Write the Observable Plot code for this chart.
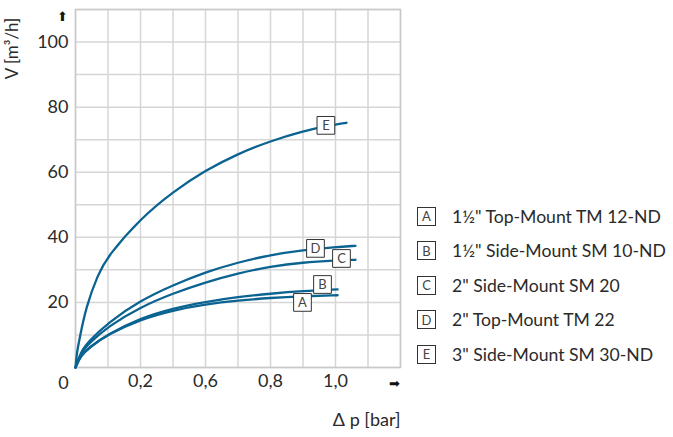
<!DOCTYPE html>
<html>
<head>
<meta charset="utf-8">
<script src="https://cdn.jsdelivr.net/npm/d3@7"></script>
<script src="https://cdn.jsdelivr.net/npm/@observablehq/plot@0.6"></script>
<style>
  body { margin: 0; background: #fff; }
  #wrap { position: relative; width: 673px; height: 437px; font-family: Lato, "Open Sans", sans-serif; color: #2a2a2a; }
  #legend { position: absolute; left: 417px; top: 199px; }
  .row { display: flex; align-items: center; height: 34.5px; }
  .box { width: 17px; height: 17px; border: 1px solid #333; box-sizing: content-box; display: flex; align-items: center; justify-content: center; font-size: 13px; color: #444; margin-right: 16px; }
  .lbl { font-size: 17.6px; white-space: nowrap; }
</style>
</head>
<body>
<div id="wrap"><div id="legend"></div></div>
<script>
// Series data (Δp in bar, V in m³/h)
const seriesA_x = [0, 0.02, 0.05, 0.125, 0.25, 0.375, 0.5, 0.625, 0.75, 0.875, 1.008];
const seriesA_y = [0, 3.6, 6.0, 10.2, 14.8, 17.6, 19.4, 20.6, 21.4, 21.9, 22.2];
const seriesB_x = [0, 0.02, 0.05, 0.125, 0.25, 0.375, 0.5, 0.625, 0.75, 0.875, 1.008];
const seriesB_y = [0, 3.6, 6.0, 10.2, 15.2, 18.2, 20.2, 21.7, 22.7, 23.5, 24.0];
const seriesC_x = [0, 0.02, 0.05, 0.125, 0.25, 0.375, 0.5, 0.625, 0.75, 0.875, 1.0, 1.077];
const seriesC_y = [0, 4.4, 7.3, 12.6, 18.6, 22.8, 26.2, 29.0, 31.0, 32.3, 32.9, 33.1];
const seriesD_x = [0, 0.02, 0.05, 0.125, 0.25, 0.375, 0.5, 0.625, 0.75, 0.875, 1.0, 1.077];
const seriesD_y = [0, 4.8, 8.0, 13.8, 20.6, 25.3, 29.3, 32.3, 34.6, 36.1, 37.0, 37.4];
const seriesE_x = [0, 0.005, 0.016, 0.04, 0.087, 0.125, 0.25, 0.375, 0.5, 0.625, 0.75, 0.875, 0.95, 1.042];
const seriesE_y = [0, 4.5, 9.0, 18.5, 28.8, 34.3, 45.8, 54.0, 60.6, 65.7, 69.6, 72.6, 73.9, 75.2];

// Curve labels (letter boxes on the curves)
const labelLetters = ["A", "B", "C", "D", "E"];
const labelX = [0.873, 0.95, 1.023, 0.923, 0.963];
const labelY = [20.0, 25.5, 33.5, 36.6, 74.4];

// Legend
const legendNames = [
  "1½\" Top-Mount TM 12-ND",
  "1½\" Side-Mount SM 10-ND",
  "2\" Side-Mount SM 20",
  "2\" Top-Mount TM 22",
  "3\" Side-Mount SM 30-ND"
];

// Axis ticks
const xTickValues = [0.25, 0.5, 0.75, 1.0];
const xTickLabels = ["0,2", "0,6", "0,8", "1,0"];
const yTickValues = [20, 40, 60, 80, 100];
const xGrid = [0, 0.125, 0.25, 0.375, 0.5, 0.625, 0.75, 0.875, 1.0, 1.125, 1.25];
const yGrid = [0, 10, 20, 30, 40, 50, 60, 70, 80, 90, 100, 110];

const seriesX = [seriesA_x, seriesB_x, seriesC_x, seriesD_x, seriesE_x];
const seriesY = [seriesA_y, seriesB_y, seriesC_y, seriesD_y, seriesE_y];
const lines = [];
labelLetters.forEach((s, i) => seriesX[i].forEach((x, j) => lines.push({series: s, x, y: seriesY[i][j]})));
const labels = labelLetters.map((l, i) => ({letter: l, x: labelX[i], y: labelY[i]}));

const blue = "#0b6391";
const txt = "#2a2a2a";

const chart = Plot.plot({
  width: 673,
  height: 437,
  marginLeft: 75,
  marginRight: 273,
  marginTop: 9,
  marginBottom: 70,
  style: {fontFamily: "Lato, 'Open Sans', sans-serif", fontSize: "18px", color: txt, background: "white"},
  x: {domain: [0, 1.25]},
  y: {domain: [0, 110]},
  marks: [
    Plot.gridX(xGrid, {stroke: "#d6d6d6", strokeOpacity: 1, strokeWidth: 1.5}),
    Plot.gridY(yGrid, {stroke: "#d6d6d6", strokeOpacity: 1, strokeWidth: 1.5}),
    Plot.frame({stroke: "#c9c9c9", strokeWidth: 1.5}),
    Plot.axisX(xTickValues, {tickFormat: (d, i) => xTickLabels[i], tickSize: 0, tickPadding: 7, fontSize: 18, fill: txt, label: null}),
    Plot.axisY(yTickValues, {tickSize: 0, tickPadding: 7, fontSize: 18, fill: txt, label: null}),
    Plot.line(lines, {x: "x", y: "y", z: "series", stroke: blue, strokeWidth: 2.3, curve: "basis"}),
    Plot.dot(labels, {x: "x", y: "y", symbol: "square", r: 10, fill: "white", stroke: "#333", strokeWidth: 1}),
    Plot.text(labels, {x: "x", y: "y", text: "letter", fontSize: 13, fill: "#444"}),
    Plot.text(["0"], {frameAnchor: "bottom-left", dx: -12, dy: 16, fontSize: 18, fill: txt, textAnchor: "middle", lineAnchor: "middle"}),
    Plot.text(["⬆"], {frameAnchor: "top-left", dx: -13, dy: 7, fontSize: 13, fontFamily: "DejaVu Sans", fill: "#111", textAnchor: "middle", lineAnchor: "middle"}),
    Plot.text(["➡"], {frameAnchor: "bottom-right", dx: -6, dy: 16, fontSize: 13, fontFamily: "DejaVu Sans", fill: "#111", textAnchor: "middle", lineAnchor: "middle"}),
    Plot.text(["V [m³/h]"], {frameAnchor: "top-left", dx: -63, dy: 39, rotate: -90, fontSize: 17, fill: txt, textAnchor: "middle", lineAnchor: "middle"}),
    Plot.text(["Δ p [bar]"], {frameAnchor: "bottom-right", dx: 0, dy: 53, fontSize: 18, fill: txt, textAnchor: "end", lineAnchor: "middle"})
  ]
});
document.getElementById("wrap").prepend(chart);

const legend = document.getElementById("legend");
labelLetters.forEach((l, i) => {
  const row = document.createElement("div");
  row.className = "row";
  const box = document.createElement("div");
  box.className = "box";
  box.textContent = l;
  const lbl = document.createElement("div");
  lbl.className = "lbl";
  lbl.textContent = legendNames[i];
  row.append(box, lbl);
  legend.append(row);
});
</script>
</body>
</html>
